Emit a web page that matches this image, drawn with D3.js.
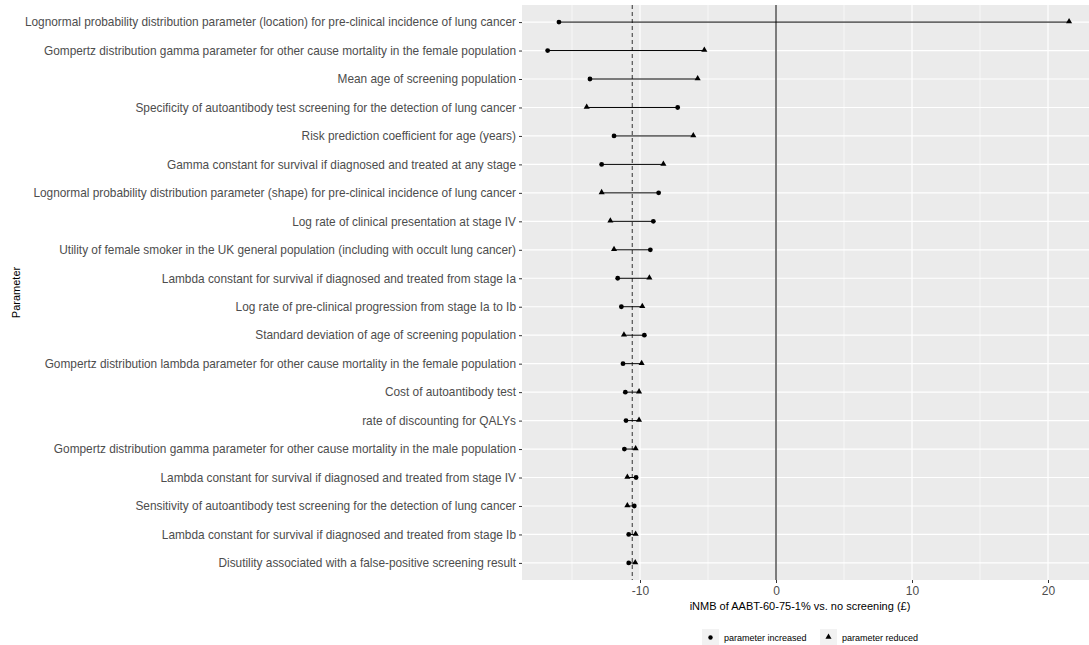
<!DOCTYPE html>
<html lang="en">
<head>
<meta charset="UTF-8">
<title>Tornado</title>
<script src="https://d3js.org/d3.v7.min.js"></script>
<style>
  body {margin:0; background:#fff;}
  text {font-family:"Liberation Sans", Arial, sans-serif;}
</style>
</head>
<body>
<div id="chart"></div>
<script>
// parameters, top to bottom
var params = [
  "Lognormal probability distribution parameter (location) for pre-clinical incidence of lung cancer",
  "Gompertz distribution gamma parameter for other cause mortality in the female population",
  "Mean age of screening population",
  "Specificity of autoantibody test screening for the detection of lung cancer",
  "Risk prediction coefficient for age (years)",
  "Gamma constant for survival if diagnosed and treated at any stage",
  "Lognormal probability distribution parameter (shape) for pre-clinical incidence of lung cancer",
  "Log rate of clinical presentation at stage IV",
  "Utility of female smoker in the UK general population (including with occult lung cancer)",
  "Lambda constant for survival if diagnosed and treated from stage Ia",
  "Log rate of pre-clinical progression from stage Ia to Ib",
  "Standard deviation of age of screening population",
  "Gompertz distribution lambda parameter for other cause mortality in the female population",
  "Cost of autoantibody test",
  "rate of discounting for QALYs",
  "Gompertz distribution gamma parameter for other cause mortality in the male population",
  "Lambda constant for survival if diagnosed and treated from stage IV",
  "Sensitivity of autoantibody test screening for the detection of lung cancer",
  "Lambda constant for survival if diagnosed and treated from stage Ib",
  "Disutility associated with a false-positive screening result"
];
// iNMB when parameter increased / reduced
var increased = [-15.96, -16.79, -13.68, -7.23, -11.91, -12.82, -8.63, -9.02, -9.24, -11.64,
                 -11.37, -9.68, -11.25, -11.08, -11.03, -11.15, -10.29, -10.42, -10.83, -10.83];
var reduced   = [21.55, -5.27, -5.76, -13.92, -6.08, -8.28, -12.82, -12.18, -11.91, -9.31,
                 -9.83, -11.18, -9.88, -10.07, -10.07, -10.32, -10.93, -10.93, -10.32, -10.35];
var baseValue = -10.57;
var xTicks = [-10, 0, 10, 20];
var xMinor = [-15, -5, 5, 15];

var W = 1089, H = 645;
var pLeft = 522, pTop = 5, pBottom = 580;
var pxPerUnit = 13.6;
var x0 = 776;

var x = d3.scaleLinear().domain([-18.72, 23.5])
    .range([x0 - 18.72 * pxPerUnit, x0 + 23.5 * pxPerUnit]);
var y = d3.scalePoint().domain(params).range([pTop, pBottom]).padding(0.6);

var svg = d3.select("#chart").append("svg")
    .attr("width", W).attr("height", H);

svg.append("defs").append("clipPath").attr("id", "clip")
  .append("rect").attr("x", pLeft).attr("y", pTop)
  .attr("width", W - pLeft).attr("height", pBottom - pTop);

var panel = svg.append("g").attr("clip-path", "url(#clip)");
panel.append("rect")
    .attr("x", pLeft).attr("y", pTop)
    .attr("width", W - pLeft).attr("height", pBottom - pTop)
    .attr("fill", "#ebebeb");

// grid
panel.selectAll(".minor").data(xMinor).enter().append("line")
    .attr("x1", d => x(d)).attr("x2", d => x(d))
    .attr("y1", pTop).attr("y2", pBottom)
    .attr("stroke", "#fff").attr("stroke-width", 0.6);
panel.selectAll(".major").data(xTicks).enter().append("line")
    .attr("x1", d => x(d)).attr("x2", d => x(d))
    .attr("y1", pTop).attr("y2", pBottom)
    .attr("stroke", "#fff").attr("stroke-width", 1.2);
panel.selectAll(".hgrid").data(params).enter().append("line")
    .attr("x1", pLeft).attr("x2", W)
    .attr("y1", d => y(d)).attr("y2", d => y(d))
    .attr("stroke", "#fff").attr("stroke-width", 1.2);

// zero line and base case
panel.append("line")
    .attr("x1", x(0)).attr("x2", x(0)).attr("y1", pTop).attr("y2", pBottom)
    .attr("stroke", "#000").attr("stroke-width", 1);
panel.append("line")
    .attr("x1", x(baseValue)).attr("x2", x(baseValue)).attr("y1", pTop).attr("y2", pBottom)
    .attr("stroke", "#333").attr("stroke-width", 1).attr("stroke-dasharray", "4,3");

// segments
panel.selectAll(".seg").data(params).enter().append("line")
    .attr("x1", (d, i) => x(increased[i])).attr("x2", (d, i) => x(reduced[i]))
    .attr("y1", d => y(d)).attr("y2", d => y(d))
    .attr("stroke", "#000").attr("stroke-width", 1);

var tri = d3.symbol().type(d3.symbolTriangle).size(16);
panel.selectAll(".inc").data(params).enter().append("circle")
    .attr("cx", (d, i) => x(increased[i])).attr("cy", d => y(d))
    .attr("r", 2.4).attr("fill", "#000");
panel.selectAll(".red").data(params).enter().append("path")
    .attr("d", tri)
    .attr("transform", (d, i) => "translate(" + x(reduced[i]) + "," + (y(d) - 0.5) + ")")
    .attr("fill", "#000");

// y axis
var yAxis = d3.axisLeft(y).tickSize(3).tickPadding(3);
var gy = svg.append("g").attr("transform", "translate(" + pLeft + ",0)").call(yAxis);
gy.select(".domain").remove();
gy.selectAll("line").attr("stroke", "#333");
gy.selectAll("text").attr("fill", "#4d4d4d").attr("font-size", "11.85px")
    .style("font-family", "Liberation Sans, Arial, sans-serif");

// x axis
var xAxis = d3.axisBottom(x).tickValues(xTicks).tickFormat(d => String(d)).tickSize(3).tickPadding(3);
var gx = svg.append("g").attr("transform", "translate(0," + pBottom + ")").call(xAxis);
gx.select(".domain").remove();
gx.selectAll("line").attr("stroke", "#333");
gx.selectAll("text").attr("fill", "#4d4d4d").attr("font-size", "12px")
    .style("font-family", "Liberation Sans, Arial, sans-serif");

svg.append("text")
    .attr("x", 800).attr("y", 610)
    .attr("text-anchor", "middle").attr("font-size", "11px").attr("fill", "#000")
    .text("iNMB of AABT-60-75-1% vs. no screening (£)");

svg.append("text")
    .attr("transform", "translate(20," + ((pTop + pBottom) / 2) + ") rotate(-90)")
    .attr("text-anchor", "middle").attr("font-size", "11px").attr("fill", "#000")
    .text("Parameter");

// legend
var legend = [["parameter increased", "circle", 702], ["parameter reduced", "triangle", 820]];
legend.forEach(function(l) {
  var g = svg.append("g").attr("transform", "translate(" + l[2] + ",629)");
  g.append("rect").attr("width", 17).attr("height", 17).attr("fill", "#f2f2f2");
  if (l[1] == "circle") {
    g.append("circle").attr("cx", 8.5).attr("cy", 8.5).attr("r", 2.2).attr("fill", "#000");
  } else {
    g.append("path").attr("d", tri).attr("transform", "translate(8.5,8)").attr("fill", "#000");
  }
  g.append("text").attr("x", 22).attr("y", 12).attr("font-size", "9px").attr("fill", "#000")
    .text(l[0]);
});
</script>
</body>
</html>
